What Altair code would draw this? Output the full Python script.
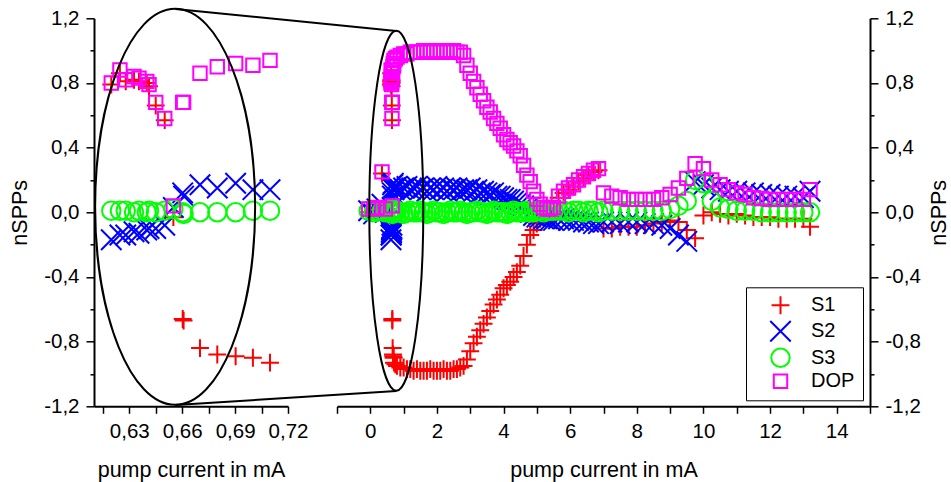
import altair as alt
import pandas as pd

FONT = "Liberation Sans"

# ---------------- data ----------------
SERIES = ["S1", "S2", "S3", "DOP"]
COLORS = ["#ff0000", "#0000ff", "#00ff00", "#ff00ff"]
PLUS = "M-1,0H1M0,-1V1"
CROSS = "M-1,-1L1,1M-1,1L1,-1"
SHAPES = [PLUS, CROSS, "circle", "square"]
SIZES = [320, 420, 340, 180]

# low currents (right panel only)
X_LOW = [-0.05, 0.1, 0.2, 0.35, 0.45]
S1_LOW = [0.0, 0.01, 0.0, 0.24, -0.01]
S2_LOW = [0.01, -0.01, 0.02, 0.05, 0.0]
S3_LOW = [0.01, 0.0, 0.01, 0.01, 0.0]
DOP_LOW = [0.02, 0.02, 0.03, 0.25, 0.02]

# zoomed region 0.61 - 0.72 mA (both panels)
X_ZOOM = [0.6198, 0.6247, 0.6280, 0.6327, 0.6355, 0.6399, 0.6412, 0.6450, 0.6501,
          0.6550, 0.6603, 0.6608, 0.6701, 0.6799, 0.6903, 0.7001, 0.7098]
S1_ZOOM = [0.79, 0.86, 0.81, 0.82, 0.81, 0.80, 0.78, 0.66, 0.57,
           -0.03, -0.66, -0.67, -0.84, -0.88, -0.89, -0.90, -0.93]
S2_ZOOM = [-0.17, -0.14, -0.14, -0.12, -0.13, -0.11, -0.10, -0.10, -0.08,
           0.03, 0.12, 0.10, 0.17, 0.15, 0.18, 0.14, 0.14]
S3_ZOOM = [0.01, 0.01, 0.01, 0.00, 0.01, 0.00, 0.01, 0.00, 0.01,
           0.02, 0.00, -0.01, 0.00, 0.00, 0.00, 0.01, 0.01]
DOP_ZOOM = [0.80, 0.88, 0.82, 0.84, 0.83, 0.81, 0.79, 0.68, 0.58,
            0.04, 0.68, 0.68, 0.86, 0.90, 0.92, 0.91, 0.94]

# dense region 0.75 - 5.5 mA
X_HIGH = [0.75, 0.8, 0.9, 1.0, 1.1, 1.2, 1.3, 1.4, 1.5, 1.6, 1.7, 1.8, 1.9, 2.0, 2.1,
          2.2, 2.3, 2.4, 2.5, 2.6, 2.7, 2.8, 2.9, 3.0, 3.1, 3.2, 3.3, 3.4, 3.5, 3.6,
          3.7, 3.8, 3.9, 4.0, 4.1, 4.2, 4.3, 4.4, 4.5, 4.6, 4.7, 4.8, 4.9, 5.0, 5.1,
          5.2, 5.3, 5.4, 5.5]
S1_HIGH = [-0.94, -0.95, -0.96, -0.96, -0.97, -0.97, -0.98, -0.97, -0.98, -0.98, -0.98,
           -0.97, -0.98, -0.98, -0.98, -0.97, -0.98, -0.98, -0.97, -0.97, -0.96, -0.95,
           -0.91, -0.86, -0.81, -0.77, -0.73, -0.69, -0.65, -0.61, -0.57, -0.54, -0.51,
           -0.47, -0.45, -0.43, -0.40, -0.37, -0.33, -0.27, -0.20, -0.14, -0.11, -0.07,
           -0.04, -0.03, -0.02, -0.02, -0.02]
S2_HIGH = [0.15, 0.16, 0.14, 0.15, 0.16, 0.14, 0.15, 0.16, 0.14, 0.15, 0.13,
           0.15, 0.14, 0.16, 0.14, 0.15, 0.13, 0.15, 0.14, 0.15, 0.13, 0.14,
           0.14, 0.15, 0.13, 0.14, 0.12, 0.13, 0.12, 0.11, 0.12, 0.10, 0.10,
           0.09, 0.08, 0.08, 0.07, 0.06, 0.05, 0.04, 0.02, 0.0, -0.02, -0.03,
           -0.03, -0.04, -0.04, -0.05, -0.05]
S3_HIGH = [0.0, 0.01, 0.0, -0.01, 0.0, 0.01, 0.0, 0.0, 0.01, 0.0, -0.01,
           0.0, 0.01, 0.0, 0.0, -0.01, 0.0, 0.01, 0.0, 0.0, 0.01, 0.0,
           -0.01, 0.0, 0.0, 0.01, 0.0, 0.0, -0.01, 0.0, 0.01, 0.0, 0.0,
           0.0, -0.01, 0.0, 0.01, 0.0, 0.0, 0.0, 0.01, 0.0, 0.0, 0.01,
           0.01, 0.0, 0.01, 0.01, 0.01]
DOP_HIGH = [0.95, 0.96, 0.97, 0.98, 0.98, 0.99, 0.99, 0.99, 0.99, 1.00, 1.00,
            0.99, 1.00, 1.00, 1.00, 0.99, 1.00, 1.00, 1.00, 0.99, 0.99, 0.97,
            0.91, 0.86, 0.81, 0.77, 0.73, 0.69, 0.65, 0.62, 0.58, 0.55, 0.52,
            0.48, 0.45, 0.43, 0.41, 0.38, 0.35, 0.29, 0.23, 0.19, 0.13, 0.08,
            0.05, 0.03, 0.02, 0.02, 0.03]

# bump 5.65 - 6.85 mA
X_MID = [5.65, 5.8, 5.95, 6.1, 6.25, 6.4, 6.55, 6.7, 6.85]
S1_MID = [0.09, 0.12, 0.14, 0.16, 0.19, 0.21, 0.23, 0.25, 0.26]
S2_MID = [-0.04, -0.04, -0.05, -0.05, -0.05, -0.06, -0.06, -0.07, -0.07]
S3_MID = [0.01, 0.01, 0.0, 0.01, 0.01, 0.0, 0.01, 0.01, 0.0]
DOP_MID = [0.10, 0.13, 0.15, 0.17, 0.20, 0.22, 0.24, 0.26, 0.27]

# tail 7 - 13.2 mA
X_TAIL = [7.0, 7.25, 7.5, 7.75, 8.0, 8.25, 8.5, 8.75, 9.0, 9.25, 9.5, 9.75, 10.0,
          10.25, 10.5, 10.75, 11.0, 11.25, 11.5, 11.75, 12.0, 12.25, 12.5, 12.75, 13.0, 13.2]
S1_TAIL = [-0.10, -0.10, -0.09, -0.09, -0.09, -0.08, -0.07, -0.06, -0.05, -0.06, -0.11,
           -0.16, -0.02, 0.0, -0.01, -0.02, -0.01, -0.02, -0.03, -0.03, -0.03, -0.04,
           -0.04, -0.04, -0.04, -0.09]
S2_TAIL = [-0.06, -0.06, -0.07, -0.06, -0.06, -0.07, -0.07, -0.08, -0.10, -0.14, -0.18,
           0.19, 0.17, 0.15, 0.14, 0.13, 0.13, 0.12, 0.12, 0.11, 0.11, 0.10, 0.10, 0.10,
           0.09, 0.13]
S3_TAIL = [0.01, 0.01, 0.01, 0.01, 0.01, 0.01, 0.01, 0.01, 0.02, 0.04, 0.07, 0.20, 0.18,
           0.07, 0.03, 0.02, 0.01, 0.01, 0.01, 0.0, 0.0, 0.0, 0.0, 0.0, 0.0, 0.0]
DOP_TAIL = [0.12, 0.10, 0.09, 0.08, 0.08, 0.08, 0.08, 0.09, 0.11, 0.15, 0.21, 0.30, 0.27,
            0.20, 0.17, 0.14, 0.12, 0.11, 0.09, 0.085, 0.08, 0.08, 0.08, 0.08, 0.08, 0.14]

# tick values
Y_MAJOR = [-1.2, -0.8, -0.4, 0.0, 0.4, 0.8, 1.2]
Y_MINOR = [-1.0, -0.6, -0.2, 0.2, 0.6, 1.0]
X_LEFT_TICKS = [0.615, 0.63, 0.645, 0.66, 0.675, 0.69, 0.705, 0.72]
X_RIGHT_TICKS = list(range(-1, 16))

# ellipse annotations (centre in data units)
ELL_LEFT = {"current": [0.656], "value": [0.034]}
ELL_RIGHT = {"current": [0.78], "value": [0.009]}

# ---------------- table ----------------
X_ALL = X_LOW + X_ZOOM + X_HIGH + X_MID + X_TAIL
VALUES = {
    "S1": S1_LOW + S1_ZOOM + S1_HIGH + S1_MID + S1_TAIL,
    "S2": S2_LOW + S2_ZOOM + S2_HIGH + S2_MID + S2_TAIL,
    "S3": S3_LOW + S3_ZOOM + S3_HIGH + S3_MID + S3_TAIL,
    "DOP": DOP_LOW + DOP_ZOOM + DOP_HIGH + DOP_MID + DOP_TAIL,
}
frames = []
for s in SERIES:
    frames.append(pd.DataFrame({"current": X_ALL, "value": VALUES[s], "series": s}))
df = pd.concat(frames, ignore_index=True)


def ellipse_path(a):
    k = 0.5523
    ka = k * a
    return (f"M0,-1C{ka:.4f},-1,{a:.4f},{-k},{a:.4f},0"
            f"C{a:.4f},{k},{ka:.4f},1,0,1"
            f"C{-ka:.4f},1,{-a:.4f},{k},{-a:.4f},0"
            f"C{-a:.4f},{-k},{-ka:.4f},-1,0,-1Z")


AX = dict(domainColor="black", domainWidth=2, tickColor="black", tickWidth=1.5,
          labelColor="black", labelFont=FONT, labelFontSize=20.5,
          titleFont=FONT, titleFontSize=21.5, titleFontWeight="normal", titleColor="black",
          grid=False, labelFlush=False, labelOverlap=False)

Y_LABEL = "replace(replace(format(datum.value, '.1f'), '.', ','), '\u2212', '-')"

y_scale = alt.Scale(domain=[-1.2, 1.2], nice=False, zero=False)

y_left = alt.Y("value:Q", scale=y_scale,
               axis=alt.Axis(orient="left", values=Y_MAJOR, title="nSPPs", labelExpr=Y_LABEL,
                             tickSize=8, labelPadding=7, titlePadding=12, **AX))
y_left_minor = alt.Y("value:Q", scale=y_scale,
                     axis=alt.Axis(orient="left", values=Y_MINOR, title=None, labels=False,
                                   domain=False, tickSize=4, tickColor="black", tickWidth=1.5,
                                   grid=False))
y_right = alt.Y("value:Q", scale=y_scale,
                axis=alt.Axis(orient="right", values=Y_MAJOR, title="nSPPs", labelExpr=Y_LABEL,
                              tickSize=8, labelPadding=7, titlePadding=8,
                              titleAngle=270, titleBaseline="top", **AX))
y_right_minor = alt.Y("value:Q", scale=y_scale,
                      axis=alt.Axis(orient="right", values=Y_MINOR, title=None, labels=False,
                                    domain=False, tickSize=4, tickColor="black", tickWidth=1.5,
                                    grid=False))

x_left = alt.X("current:Q", scale=alt.Scale(domain=[0.61, 0.72], nice=False, zero=False),
               axis=alt.Axis(values=X_LEFT_TICKS, title="pump current in mA",
                             labelExpr="round(datum.value * 1000) % 30 == 0 ? replace(format(datum.value, '.2f'), '.', ',') : ''",
                             tickSize=7, labelPadding=8, titlePadding=18, **AX))
x_right = alt.X("current:Q", scale=alt.Scale(domain=[-1, 15], nice=False, zero=False),
                axis=alt.Axis(values=X_RIGHT_TICKS, title="pump current in mA",
                              labelExpr="datum.value % 2 == 0 ? format(datum.value, 'd') : ''",
                              tickSize=7, labelPadding=8, titlePadding=18, **AX))

LEG = alt.Legend(title=None, orient="none", legendX=409, legendY=269, direction="vertical",
                 labelFont=FONT, labelFontSize=20, labelColor="black",
                 symbolStrokeWidth=2, padding=8, rowPadding=-1.5, symbolOffset=15, labelOffset=19,
                 strokeColor="black", fillColor="white")


def series_enc(legend):
    return dict(
        color=alt.Color("series:N", scale=alt.Scale(domain=SERIES, range=COLORS), legend=legend),
        shape=alt.Shape("series:N", scale=alt.Scale(domain=SERIES, range=SHAPES), legend=legend),
        size=alt.Size("series:N", scale=alt.Scale(type="ordinal", domain=SERIES, range=SIZES),
                      legend=legend),
    )


base_mark = dict(filled=False, opacity=1, strokeWidth=2)

left_points = alt.Chart(df).transform_filter(
    (alt.datum.current >= 0.605) & (alt.datum.current <= 0.725)
).mark_point(**base_mark).encode(x=x_left, y=y_left, **series_enc(None))

left_ell = alt.Chart(pd.DataFrame(ELL_LEFT)).mark_point(
    shape=ellipse_path(80 / 198), size=396 ** 2, filled=False, stroke="black",
    strokeWidth=2, opacity=1
).encode(x=x_left, y=y_left_minor)

left = alt.layer(left_points, left_ell).resolve_axis(y="independent").properties(
    width=194, height=388)

right_points = alt.Chart(df).mark_point(**base_mark).encode(
    x=x_right, y=y_right, **series_enc(LEG))

right_ell = alt.Chart(pd.DataFrame(ELL_RIGHT)).mark_point(
    shape=ellipse_path(27 / 180), size=360 ** 2, filled=False, stroke="black",
    strokeWidth=2, opacity=1
).encode(x=x_right, y=y_right_minor)

link_top = alt.Chart(pd.DataFrame({"k": [0]})).mark_rule(color="black", strokeWidth=2).encode(
    x=alt.value(-161.6), x2=alt.value(59.3), y=alt.value(-9.4), y2=alt.value(12.7))
link_bot = alt.Chart(pd.DataFrame({"k": [0]})).mark_rule(color="black", strokeWidth=2).encode(
    x=alt.value(-161.6), x2=alt.value(59.3), y=alt.value(386.7), y2=alt.value(372.7))

right = alt.layer(right_points, right_ell, link_top, link_bot).resolve_axis(
    y="independent").properties(width=533, height=388)

chart = alt.hconcat(left, right, spacing=49, bounds="flush").resolve_scale(
    x="independent", y="independent", color="independent", shape="independent", size="independent"
).properties(
    autosize=alt.AutoSizeParams(type="none"),
    padding={"left": 94, "top": 18.3, "right": 857, "bottom": 463.7}
).configure_view(stroke="transparent")

chart.save("out.html", embed_options={"renderer": "svg", "actions": False})
